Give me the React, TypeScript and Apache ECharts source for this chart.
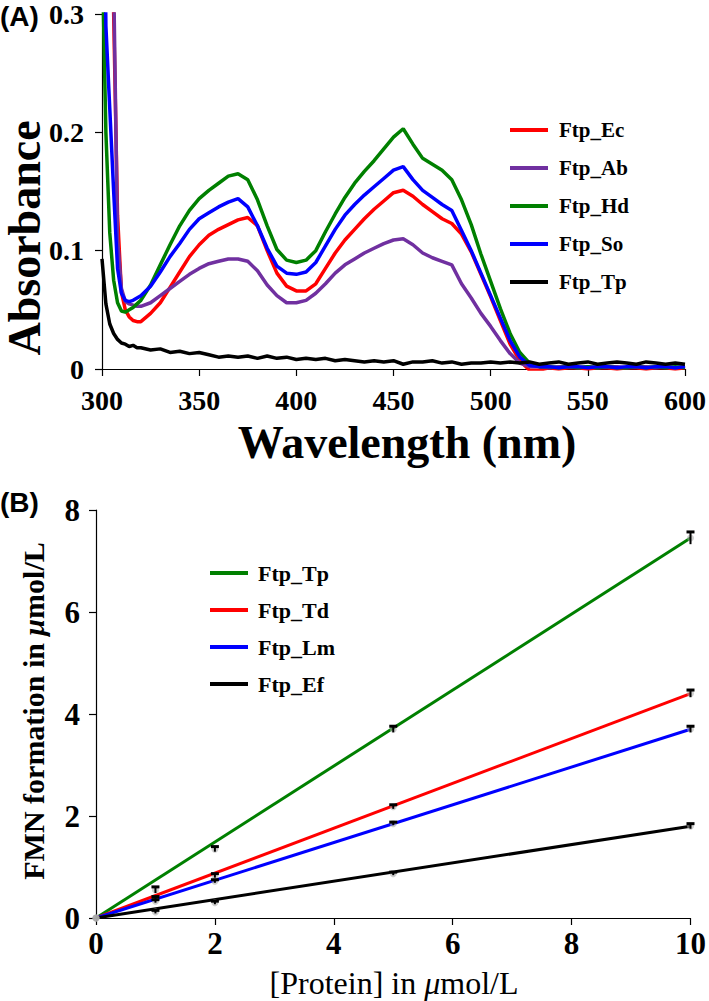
import React, { useEffect, useRef } from "react";
import * as echarts from "echarts";

// ---------- Panel A data ----------
const wavelengths = [
  300, 302, 304, 306, 308, 310, 312, 314, 316, 318,
  320, 325, 330, 335, 340, 345, 350, 355, 360, 365,
  370, 375, 380, 385, 390, 395, 400, 405, 410, 415,
  420, 425, 430, 435, 440, 445, 450, 455, 460, 465,
  470, 475, 480, 485, 490, 495, 500, 505, 510, 515,
  520, 525, 530, 535, 540, 545, 550, 555, 560, 565,
  570, 575, 580, 585, 590, 595, 600,
];
const ftpEc = [
  0.9, 0.7, 0.45, 0.3, 0.13, 0.065, 0.05, 0.044, 0.041, 0.04,
  0.04, 0.047, 0.056, 0.069, 0.082, 0.095, 0.105, 0.113, 0.118, 0.122,
  0.126, 0.128, 0.121, 0.1, 0.081, 0.07, 0.066, 0.066, 0.072, 0.085,
  0.098, 0.109, 0.118, 0.127, 0.135, 0.142, 0.149, 0.151, 0.146, 0.139,
  0.133, 0.127, 0.123, 0.114, 0.099, 0.08, 0.061, 0.041, 0.021, 0.007,
  -0.001, -0.001, 0.001, 0.0, 0.001, 0.001, 0.0, 0.001, 0.001, 0.0,
  0.001, 0.001, 0.0, 0.001, 0.001, 0.0, 0.001,
];
const ftpAb = [
  0.9, 0.8, 0.6, 0.33, 0.11, 0.068, 0.057, 0.055, 0.054, 0.053,
  0.053, 0.056, 0.062, 0.068, 0.074, 0.08, 0.085, 0.089, 0.091, 0.093,
  0.093, 0.091, 0.083, 0.071, 0.062, 0.056, 0.056, 0.058, 0.064, 0.072,
  0.081, 0.088, 0.093, 0.098, 0.102, 0.106, 0.109, 0.11, 0.105, 0.098,
  0.094, 0.091, 0.088, 0.072, 0.06, 0.047, 0.036, 0.024, 0.013, 0.005,
  0.002, 0.002, 0.001, 0.002, 0.002, 0.001, 0.002, 0.001, 0.002, 0.002,
  0.001, 0.002, 0.002, 0.001, 0.002, 0.001, 0.002,
];
const ftpHd = [
  0.36, 0.2, 0.115, 0.075, 0.056, 0.049, 0.048, 0.05, 0.052, 0.055,
  0.058, 0.071, 0.088, 0.105, 0.121, 0.134, 0.144, 0.151, 0.157, 0.163,
  0.165, 0.16, 0.143, 0.121, 0.101, 0.092, 0.09, 0.092, 0.1, 0.116,
  0.131, 0.145, 0.157, 0.167, 0.176, 0.186, 0.196, 0.203, 0.19, 0.178,
  0.173, 0.168, 0.16, 0.143, 0.122, 0.097, 0.074, 0.051, 0.03, 0.014,
  0.005, 0.002, 0.002, 0.001, 0.002, 0.001, 0.002, 0.001, 0.002, 0.001,
  0.001, 0.002, 0.001, 0.002, 0.001, 0.002, 0.001,
];
const ftpSo = [
  0.6, 0.29, 0.22, 0.15, 0.085, 0.064, 0.058, 0.057, 0.058, 0.06,
  0.062, 0.07, 0.082, 0.095, 0.106, 0.118, 0.127, 0.132, 0.137, 0.141,
  0.144, 0.137, 0.121, 0.102, 0.087, 0.081, 0.08, 0.082, 0.09, 0.104,
  0.118, 0.13, 0.139, 0.147, 0.154, 0.161, 0.168, 0.171, 0.16, 0.151,
  0.145, 0.139, 0.134, 0.117, 0.1, 0.081, 0.062, 0.043, 0.024, 0.01,
  0.003, 0.002, 0.002, 0.001, 0.002, 0.002, 0.001, 0.002, 0.002, 0.001,
  0.002, 0.002, 0.001, 0.002, 0.002, 0.001, 0.002,
];
const ftpTpA = [
  0.093, 0.055, 0.038, 0.03, 0.025, 0.022, 0.021, 0.019, 0.02, 0.018,
  0.018, 0.016, 0.017, 0.014, 0.015, 0.013, 0.014, 0.012, 0.01, 0.011,
  0.01, 0.011, 0.009, 0.011, 0.009, 0.01, 0.008, 0.009, 0.008, 0.009,
  0.007, 0.008, 0.007, 0.006, 0.007, 0.006, 0.007, 0.004, 0.006, 0.006,
  0.007, 0.005, 0.006, 0.004, 0.005, 0.005, 0.006, 0.005, 0.006, 0.005,
  0.006, 0.004, 0.005, 0.006, 0.004, 0.005, 0.006, 0.004, 0.005, 0.006,
  0.005, 0.004, 0.006, 0.005, 0.004, 0.005, 0.004,
];
const absTicks = [0, 0.1, 0.2, 0.3];

// ---------- Panel B data ----------
const protein = [0, 1, 2, 5, 10];
const tpPts = [0, 0.55, 1.35, 3.7, 7.45];
const tpErr = [0, 0.06, 0.05, 0.06, 0.12];
const tdPts = [0, 0.38, 0.83, 2.18, 4.4];
const tdErr = [0, 0.04, 0.04, 0.04, 0.07];
const lmPts = [0, 0.33, 0.72, 1.85, 3.7];
const lmErr = [0, 0.03, 0.03, 0.03, 0.06];
const efPts = [0, 0.12, 0.3, 0.87, 1.8];
const efErr = [0, 0.03, 0.03, 0.03, 0.05];
const fitX = [0, 10];
const tpFit = [0, 7.45];
const tdFit = [0, 4.4];
const lmFit = [0, 3.7];
const efFit = [0, 1.8];

const SERIF = "Liberation Serif";
const SANS = "Liberation Sans";

const axisCommon = {
  axisLine: { show: true, lineStyle: { color: "#000", width: 1.2 } },
  axisTick: { show: true, inside: false, length: 7, lineStyle: { color: "#000", width: 1.2 } },
  splitLine: { show: false },
};

function richLabel(size: number, margin: number, fmt: (v: number) => string) {
  return {
    margin,
    formatter: (v: number) => `{t|${fmt(v)}}`,
    rich: { t: { fontFamily: SERIF, fontWeight: "bold", fontSize: size, color: "#000" } },
  };
}

function specSeries(name: string, arr: number[], color: string) {
  return {
    name,
    type: "line",
    data: wavelengths.map((w, i) => [w, arr[i]]),
    showSymbol: false,
    symbol: "none",
    clip: true,
    color,
    itemStyle: { color },
    lineStyle: { color, width: 3.5 },
  };
}

function fitSeries(name: string, arr: number[], color: string) {
  return {
    name,
    type: "line",
    data: fitX.map((x, i) => [x, arr[i]]),
    showSymbol: false,
    symbol: "none",
    color,
    itemStyle: { color },
    lineStyle: { color, width: 3 },
    z: 2,
  };
}

function pointSeries(pts: number[]) {
  return {
    type: "scatter",
    data: protein.map((x, i) => [x, pts[i]]),
    symbol: "circle",
    symbolSize: 7,
    itemStyle: { color: "rgba(170,170,170,0.7)" },
    z: 3,
  };
}

function errSeries(pts: number[], errs: number[]) {
  return {
    type: "custom",
    data: protein.map((x, i) => [x, pts[i], errs[i]]),
    renderItem: (params: any, api: any) => {
      const x = api.value(0);
      const y = api.value(1);
      const e = api.value(2);
      if (!e) return null;
      const top = api.coord([x, y + e]);
      const bot = api.coord([x, y - e]);
      return {
        type: "group",
        children: [
          { type: "line", shape: { x1: top[0], y1: top[1], x2: bot[0], y2: bot[1] }, style: { stroke: "#000", lineWidth: 2 } },
          { type: "line", shape: { x1: top[0] - 4, y1: top[1], x2: top[0] + 4, y2: top[1] }, style: { stroke: "#000", lineWidth: 3 } },
        ],
      };
    },
    z: 4,
  };
}

function richText(parts: [string, boolean][], x: number, y: number, size: number, bold: boolean, rot = 0) {
  const text = parts.map(([s, it]) => `{${it ? "i" : "a"}|${s}}`).join("");
  return {
    type: "text",
    x,
    y,
    rotation: rot,
    style: {
      text,
      align: "center",
      verticalAlign: "middle",
      fill: "#000",
      rich: {
        a: { fontFamily: SERIF, fontWeight: bold ? "bold" : "normal", fontSize: size, fill: "#000" },
        i: { fontFamily: SERIF, fontWeight: bold ? "bold" : "normal", fontStyle: "italic", fontSize: size, fill: "#000" },
      },
    },
  };
}

export default function App() {
  const refA = useRef<HTMLDivElement>(null);
  const refB = useRef<HTMLDivElement>(null);

  useEffect(() => {
    const a = echarts.init(refA.current!, null, { renderer: "svg" });
    a.setOption({
      animation: false,
      backgroundColor: "#fff",
      grid: { left: 102, top: 13, width: 587, height: 356, containLabel: false },
      xAxis: {
        type: "value",
        min: 300,
        max: 600,
        interval: 50,
        ...axisCommon,
        axisLabel: richLabel(28, 17, (v) => String(v)),
      },
      yAxis: {
        type: "value",
        min: absTicks[0],
        max: absTicks[absTicks.length - 1],
        interval: 0.1,
        ...axisCommon,
        axisLabel: richLabel(28, 18, (v) => (v === 0 ? "0" : v.toFixed(1))),
      },
      legend: {
        orient: "vertical",
        left: 510,
        top: 119,
        padding: 0,
        icon: "rect",
        itemWidth: 38,
        itemHeight: 4,
        itemGap: 16,
        textStyle: { color: "#000", fontFamily: SERIF, fontWeight: "bold", fontSize: 21, lineHeight: 22, padding: [0, 0, 0, 6] },
        data: ["Ftp_Ec", "Ftp_Ab", "Ftp_Hd", "Ftp_So", "Ftp_Tp"],
      },
      series: [
        specSeries("Ftp_Ec", ftpEc, "#ff0000"),
        specSeries("Ftp_Ab", ftpAb, "#7030a0"),
        specSeries("Ftp_Hd", ftpHd, "#008000"),
        specSeries("Ftp_So", ftpSo, "#0000ff"),
        specSeries("Ftp_Tp", ftpTpA, "#000000"),
      ],
      graphic: [
        { type: "text", x: 0, y: 16, style: { text: "{p|(A)}", align: "left", verticalAlign: "middle", rich: { p: { fontFamily: SANS, fontWeight: "bold", fontSize: 28, fill: "#000" } } } },
        richText([["Absorbance", false]], 24, 238, 46, true, Math.PI / 2),
        richText([["Wavelength (nm)", false]], 407, 442, 46, true),
      ],
    });

    const b = echarts.init(refB.current!, null, { renderer: "svg" });
    b.setOption({
      animation: false,
      backgroundColor: "#fff",
      grid: { left: 96, top: 40, width: 596, height: 408, containLabel: false },
      xAxis: {
        type: "value",
        min: 0,
        max: 10,
        interval: 2,
        ...axisCommon,
        axisLabel: richLabel(31, 10, (v) => String(v)),
      },
      yAxis: {
        type: "value",
        min: 0,
        max: 8,
        interval: 2,
        ...axisCommon,
        axisLabel: richLabel(31, 16, (v) => String(v)),
      },
      legend: {
        orient: "vertical",
        left: 210,
        top: 92,
        padding: 0,
        icon: "rect",
        itemWidth: 38,
        itemHeight: 4,
        itemGap: 15,
        textStyle: { color: "#000", fontFamily: SERIF, fontWeight: "bold", fontSize: 22, lineHeight: 22, padding: [0, 0, 0, 5] },
        data: ["Ftp_Tp", "Ftp_Td", "Ftp_Lm", "Ftp_Ef"],
      },
      series: [
        fitSeries("Ftp_Tp", tpFit, "#008000"),
        fitSeries("Ftp_Td", tdFit, "#ff0000"),
        fitSeries("Ftp_Lm", lmFit, "#0000ff"),
        fitSeries("Ftp_Ef", efFit, "#000000"),
        pointSeries(tpPts),
        pointSeries(tdPts),
        pointSeries(lmPts),
        pointSeries(efPts),
        errSeries(tpPts, tpErr),
        errSeries(tdPts, tdErr),
        errSeries(lmPts, lmErr),
        errSeries(efPts, efErr),
      ],
      graphic: [
        { type: "text", x: 0, y: 32, style: { text: "{p|(B)}", align: "left", verticalAlign: "middle", rich: { p: { fontFamily: SANS, fontWeight: "bold", fontSize: 28, fill: "#000" } } } },
        richText([["FMN formation in ", false], ["μ", true], ["mol/L", false]], 33, 241, 30, true, Math.PI / 2),
        richText([["[Protein] in ", false], ["μ", true], ["mol/L", false]], 394, 513, 32, false),
      ],
    });

    return () => {
      a.dispose();
      b.dispose();
    };
  }, []);

  return (
    <div style={{ position: "absolute", left: 0, top: 0, width: 709, height: 1001, background: "#fff" }}>
      <div ref={refA} style={{ position: "absolute", left: 0, top: 0, width: 709, height: 470 }} />
      <div ref={refB} style={{ position: "absolute", left: 0, top: 470, width: 709, height: 531 }} />
    </div>
  );
}
